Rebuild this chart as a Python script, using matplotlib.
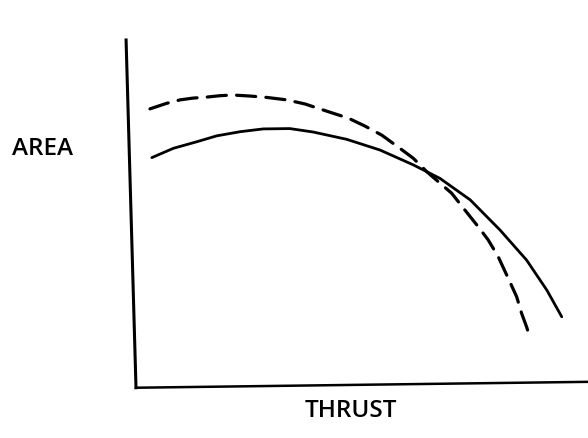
import numpy as np
import matplotlib.pyplot as plt

# values, arbitrary units (axes span 0..10 both ways)
thrust_solid = [0.35, 0.83, 1.35, 1.79, 2.31, 2.82, 3.41, 3.93, 4.67, 5.41,
                6.15, 6.74, 7.41, 8.07, 8.66, 9.11, 9.44]
area_solid = [6.60, 6.87, 7.06, 7.23, 7.35, 7.43, 7.44, 7.34, 7.13, 6.82,
              6.39, 6.00, 5.38, 4.51, 3.64, 2.77, 2.00]

thrust_dashed = [0.31, 0.68, 0.98, 1.26, 1.57, 1.86, 2.15, 2.53, 2.90, 3.34,
                 3.75, 4.26, 4.71, 5.08, 5.45, 5.82, 6.15, 6.45, 7.00, 7.29,
                 7.59, 7.81, 8.03, 8.29, 8.44, 8.55, 8.66, 8.74]
area_dashed = [8.01, 8.17, 8.27, 8.32, 8.35, 8.39, 8.41, 8.38, 8.34, 8.27,
               8.15, 7.93, 7.74, 7.51, 7.25, 6.90, 6.58, 6.19, 5.57, 5.09,
               4.60, 4.22, 3.74, 3.01, 2.58, 2.10, 1.71, 1.38]

fig = plt.figure(figsize=(5.88, 4.38), dpi=100)
ax = fig.add_axes([136 / 588, 1 - 386 / 438, 451 / 588, 346 / 438])

ax.plot(thrust_solid, area_solid, color="black", lw=2.0,
        solid_capstyle="round", solid_joinstyle="round")
ax.plot(thrust_dashed, area_dashed, color="black", lw=2.3,
        dashes=(6.0, 3.2), dash_capstyle="round", dash_joinstyle="round")

ax.set_xlim(0, 10)
ax.set_ylim(0, 10)
ax.set_xticks([])
ax.set_yticks([])
for s in ax.spines.values():
    s.set_visible(False)

# hand-drawn axes: left one leans a little, bottom one rises slightly to the right
ax.plot([-0.022, 0.0], [1.0, -0.005], transform=ax.transAxes, color="black",
        lw=2.2, clip_on=False)
ax.plot([0.0, 1.0], [-0.005, 0.012], transform=ax.transAxes, color="black",
        lw=1.8, clip_on=False)

lab = dict(fontsize=17.5, family=["Open Sans", "DejaVu Sans"], weight="semibold",
           ha="center", va="center")
fig.text(43 / 588, 1 - 149 / 438, "AREA", **lab)
fig.text(351 / 588, 1 - 411 / 438, "THRUST", **lab)

fig.savefig("out.png", dpi=100)
